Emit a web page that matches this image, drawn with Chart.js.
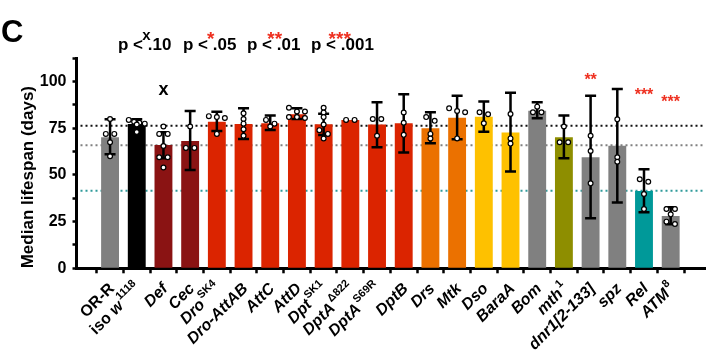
<!DOCTYPE html>
<html><head><meta charset="utf-8">
<script src="https://cdn.jsdelivr.net/npm/chart.js@4.4.1/dist/chart.umd.min.js"></script>
<style>html,body{margin:0;padding:0;background:#fff}canvas{display:block}</style>
</head><body>
<canvas id="c" width="715" height="351"></canvas>
<script>
// ---- data ----
const baseNames = ['OR-R','iso w','Def','Cec','Dro','Dro-AttAB','AttC','AttD','Dpt','DptA','DptA','DptB','Drs','Mtk','Dso','BaraA','Bom','mth','dnr1[2-133]','spz','Rel','ATM'];
const superscripts = ['','1118','','','SK4','','','','SK1','\u0394822','S69R','','','','','','','1','','','','8'];
const categories = baseNames.map((b, i) => b + superscripts[i]);

const medians = [70.2, 77.3, 66.0, 68.2, 78.5, 77.3, 77.7, 82.5, 77.2, 79.5, 77.0, 77.7, 75.0, 80.7, 81.2, 72.7, 84.4, 70.2, 59.5, 65.7, 41.4, 28.0];
const errLow  = [61.1, 74.8, 59.0, 52.7, 73.5, 69.3, 74.1, 80.0, 71.4, null, 64.8, 62.1, 67.0, 69.1, 73.2, 51.8, 80.4, 58.9, 26.8, 35.2, 30.0, 23.6];
const errHigh = [79.8, 79.8, 72.9, 84.3, 83.9, 85.7, 81.8, 85.7, 82.8, null, 88.9, 93.2, 83.6, 92.5, 89.3, 94.1, 88.9, 81.8, 92.5, 96.0, 53.0, 32.7];
const replicates = [
  [80, 72, 72, 67.5, 60],
  [79.5, 78.5, 78, 77.5, 77, 73],
  [76, 72, 72, 65.5, 59.5, 59.5, 54],
  [76, 64.5, 64.5],
  [81.5, 81, 80.5, 72],
  [83, 80, 77.5, 74.5, 71],
  [79.5, 77.5, 76],
  [86, 84, 84, 81, 81, 80.5],
  [86, 83.5, 81, 77, 74, 72, 69.5],
  [79.5, 79.5],
  [80, 80, 71],
  [83.5, 78, 71.5],
  [81, 79, 72, 69.5],
  [85.7, 84.3, 83.6, 69.6],
  [83.6, 82.5, 77.7],
  [82.7, 69.6, 66.8],
  [86.6, 83.6, 83.6],
  [76, 67.5, 67.5],
  [71, 62.8, 45.5],
  [79.8, 59.5, 57.1],
  [47.7, 46.4, 39.8, 31.8],
  [31.8, 31.8, 28.9, 25, 23.7]
];
const refLines = [76.4, 65.9, 41.6];
const yTicks = [0, 25, 50, 75, 100];
const pLabels = ['p < .10', 'p < .05', 'p < .01', 'p < .001'];
const pSymbols = ['x', '*', '**', '***'];
const sigMarks = [
  {cat: 2,  text: 'x',   at: 95.7},
  {cat: 18, text: '**',  at: 102.6},
  {cat: 20, text: '***', at: 94.6},
  {cat: 21, text: '***', at: 90.7}
];

// ---- styles ----
const GRAY = '#808080', DRED = '#8a1313', RED = '#db2400', ORANGE = '#eb7100', YELLOW = '#fec100', OLIVE = '#8e8e00', TEAL = '#009999';
const barColors = [GRAY, '#000000', DRED, DRED, RED, RED, RED, RED, RED, RED, RED, RED, ORANGE, ORANGE, YELLOW, YELLOW, GRAY, OLIVE, GRAY, GRAY, TEAL, GRAY];
const refColors = ['#111111', '#808080', '#2f9a9a'];
const STAR_RED = '#ee3020';
const FONT = "Arial, 'Liberation Sans', Helvetica, sans-serif";
Chart.defaults.font.family = FONT;

function rowsLayout(vals, px, yScale) {
  const pts = vals.map(v => ({py: yScale.getPixelForValue(v)})).sort((a, b) => a.py - b.py);
  const rows = [];
  pts.forEach(p => {
    const row = rows[rows.length - 1];
    if (row && Math.abs(p.py - row[0].py) <= 4.2) row.push(p); else rows.push([p]);
  });
  const out = [];
  rows.forEach(row => {
    const k = row.length;
    const s = k > 1 ? Math.min(8.5, 16 / (k - 1)) : 0;
    row.forEach((p, j) => out.push({x: px + (j - (k - 1) / 2) * s, y: p.py}));
  });
  return out;
}

function drawCentered(ctx, text, cx, cy) {
  const m = ctx.measureText(text);
  const asc = m.actualBoundingBoxAscent, desc = m.actualBoundingBoxDescent;
  ctx.textAlign = 'center';
  ctx.textBaseline = 'alphabetic';
  ctx.fillText(text, cx, cy + (asc - desc) / 2);
}

const overlay = {
  id: 'overlay',
  beforeDatasetsDraw(chart) {
    const {ctx, chartArea, scales: {y}} = chart;
    ctx.save();
    refLines.forEach((v, k) => {
      const py = y.getPixelForValue(v);
      ctx.strokeStyle = refColors[k];
      ctx.lineWidth = 2;
      ctx.setLineDash([2, 3]);
      ctx.beginPath();
      ctx.moveTo(chartArea.left + 4, py);
      ctx.lineTo(chartArea.right, py);
      ctx.stroke();
    });
    ctx.restore();
  },
  afterDatasetsDraw(chart) {
    const {ctx, scales: {x, y}} = chart;
    ctx.save();
    ctx.strokeStyle = '#000';
    ctx.lineWidth = 2.5;
    categories.forEach((c, i) => {
      if (errLow[i] == null) return;
      const px = x.getPixelForValue(i);
      const y1 = y.getPixelForValue(errLow[i]), y2 = y.getPixelForValue(errHigh[i]);
      ctx.beginPath();
      ctx.moveTo(px, y1); ctx.lineTo(px, y2);
      ctx.moveTo(px - 5.5, y1); ctx.lineTo(px + 5.5, y1);
      ctx.moveTo(px - 5.5, y2); ctx.lineTo(px + 5.5, y2);
      ctx.stroke();
    });
    ctx.lineWidth = 1.2;
    ctx.fillStyle = '#fff';
    categories.forEach((c, i) => {
      const px = x.getPixelForValue(i);
      rowsLayout(replicates[i], px, y).forEach(p => {
        ctx.beginPath();
        ctx.arc(p.x, p.y, 2.4, 0, Math.PI * 2);
        ctx.fill();
        ctx.stroke();
      });
    });
    ctx.restore();
  },
  afterDraw(chart) {
    const {ctx, chartArea, scales: {x, y}} = chart;
    ctx.save();
    // panel letter
    ctx.fillStyle = '#000';
    ctx.font = 'bold 31px ' + FONT;
    ctx.textAlign = 'left';
    ctx.textBaseline = 'alphabetic';
    ctx.fillText('C', 1, 41.7);
    // significance key
    const keyLeft = [118, 183, 247, 311];
    const symX = [146.3, 210.7, 274.7, 339.7];
    pLabels.forEach((t, k) => {
      ctx.font = 'bold 17px ' + FONT;
      ctx.fillStyle = '#000';
      ctx.textAlign = 'left';
      ctx.textBaseline = 'alphabetic';
      ctx.fillText(t, keyLeft[k], 49.5);
      if (pSymbols[k] === 'x') { ctx.font = 'bold 15px ' + FONT; ctx.fillStyle = '#000'; }
      else { ctx.font = 'bold 19px ' + FONT; ctx.fillStyle = STAR_RED; }
      drawCentered(ctx, pSymbols[k], symX[k], 35.7);
    });
    // significance marks above bars
    sigMarks.forEach(m => {
      if (m.text === 'x') { ctx.font = 'bold 18px ' + FONT; ctx.fillStyle = '#000'; }
      else { ctx.font = 'bold 16px ' + FONT; ctx.fillStyle = STAR_RED; }
      drawCentered(ctx, m.text, x.getPixelForValue(m.cat), y.getPixelForValue(m.at));
    });
    // category labels (rotated, with superscripts)
    const ang = -45 * Math.PI / 180;
    categories.forEach((c, i) => {
      const segs = [];
      const b = baseNames[i];
      if (b.startsWith('iso ')) {
        segs.push({t: 'iso ', f: 'bold 16px ' + FONT, dy: 0});
        segs.push({t: b.slice(4), f: 'italic bold 16px ' + FONT, dy: 0});
      } else if (b === 'OR-R') {
        segs.push({t: b, f: 'bold 16px ' + FONT, dy: 0});
      } else {
        segs.push({t: b, f: 'italic bold 16px ' + FONT, dy: 0});
      }
      if (superscripts[i]) segs.push({t: superscripts[i], f: 'bold 11px ' + FONT, dy: -6.5, gap: 1.5});
      let total = 0;
      segs.forEach(s => { ctx.font = s.f; s.w = ctx.measureText(s.t).width + (s.gap || 0); total += s.w; });
      ctx.save();
      ctx.translate(x.getPixelForValue(i) + 2, chartArea.bottom + 18);
      ctx.rotate(ang);
      ctx.fillStyle = '#000';
      ctx.textAlign = 'left';
      ctx.textBaseline = 'middle';
      let cx = -total;
      segs.forEach(s => { ctx.font = s.f; ctx.fillText(s.t, cx + (s.gap || 0), s.dy); cx += s.w; });
      ctx.restore();
    });
    ctx.restore();
  }
};

new Chart(document.getElementById('c'), {
  type: 'bar',
  data: {
    labels: categories,
    datasets: [{
      label: 'Median lifespan (days)',
      data: categories.map((c, i) => ({x: i, y: medians[i]})),
      backgroundColor: barColors,
      borderWidth: 0,
      barPercentage: 0.67,
      categoryPercentage: 1.0
    }]
  },
  options: {
    responsive: false,
    animation: false,
    devicePixelRatio: 1,
    layout: {padding: {top: 58.3, right: 10, bottom: 0, left: 0}},
    plugins: {legend: {display: false}, tooltip: {enabled: false}},
    scales: {
      x: {
        type: 'linear',
        min: -0.722,
        max: 21.75,
        afterFit(s) { s.height = 351 - 268.3; },
        border: {display: true, color: '#000', width: 3},
        grid: {display: true, drawOnChartArea: false, drawTicks: true, tickLength: 5, tickWidth: 2.5, tickColor: '#000'},
        ticks: {stepSize: 1, includeBounds: false, autoSkip: false, maxRotation: 0, callback: () => ''}
      },
      y: {
        min: 0,
        max: 112.5,
        afterFit(s) { s.width = 76.5; },
        border: {display: true, color: '#000', width: 3},
        grid: {display: true, drawOnChartArea: false, drawTicks: true, tickLength: 4, tickWidth: 2.5, tickColor: '#000'},
        ticks: {
          stepSize: 12.5,
          padding: 6,
          color: '#000',
          font: {size: 16, weight: 'bold'},
          callback: v => (yTicks.includes(v) ? String(v) : '')
        },
        title: {
          display: true,
          text: 'Median lifespan (days)',
          align: 'start',
          color: '#000',
          font: {size: 17, weight: 'bold'},
          padding: {top: 17.8, bottom: 0}
        }
      }
    }
  },
  plugins: [overlay]
});
</script>
</body></html>
